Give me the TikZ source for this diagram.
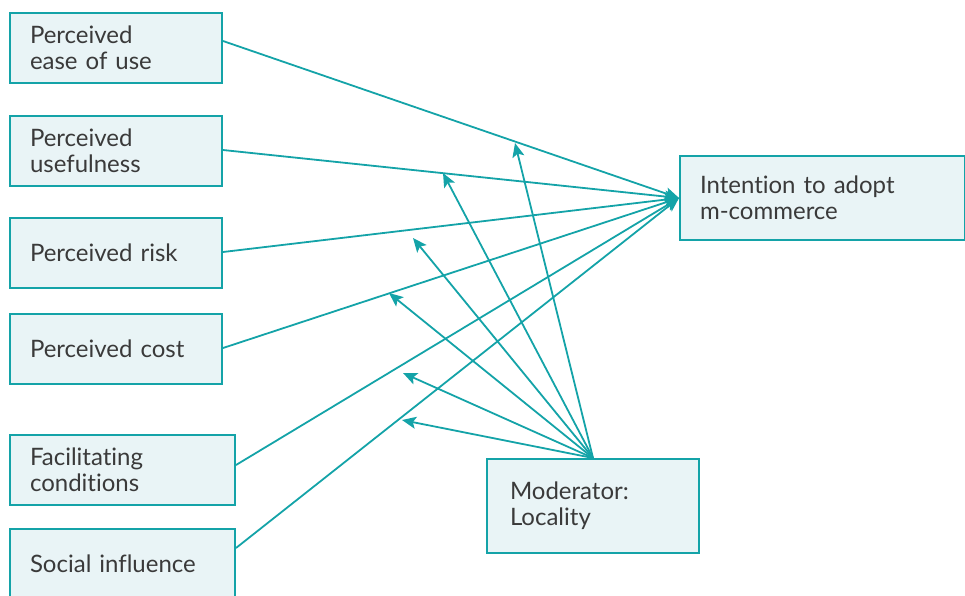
\documentclass[tikz,border=0pt]{standalone}
\usepackage{fontspec}
\setmainfont{Lato}[Ligatures={NoCommon}]
\usepackage{tikz}
\usetikzlibrary{arrows.meta, positioning}
\definecolor{teal line}{HTML}{14A3A8}
\definecolor{box fill}{HTML}{E9F4F6}
\definecolor{label}{HTML}{3A3A3A}
\tikzstyle{factor} = [
    draw=teal line,
    line width=2pt,
    rectangle,
    fill=box fill,
    text=label,
    font=\fontsize{24}{26}\selectfont,
    align=left,
    minimum width=212pt,
    minimum height=70pt,
    text width=172pt,
    inner xsep=20pt
]
\tikzstyle{wide factor} = [factor, minimum width=225pt, text width=185pt]
\tikzstyle{path} = [-{Stealth[length=14pt, width=12pt, inset=3pt]}, line width=1.8pt, draw=teal line]

\begin{document}
\begin{tikzpicture}[x=1pt, y=-1pt]
    \useasboundingbox (0, 0) rectangle (965, 595);
    \clip (0, 0) rectangle (965, 595);

    % Nodes.
    \node (ease) [factor] at (116, 48) {Perceived\\ease of use};
    \node (useful) [factor] at (116, 151) {Perceived\\usefulness};
    \node (risk) [factor] at (116, 253) {Perceived risk};
    \node (cost) [factor] at (116, 349) {Perceived cost};
    \node (facil) [wide factor] at (122.5, 470) {Facilitating\\conditions};
    \node (social) [wide factor] at (122.5, 564) {Social influence};

    \node (intent) [factor, minimum width=285pt, minimum height=84pt, text width=245pt] at (822.5, 198) {Intention to adopt\\m-commerce};
    \node (moder) [factor, minimum height=94pt, inner xsep=23pt, text width=166pt] at (593, 506) {Moderator:\\Locality};

    \node (tip ease) [coordinate] at (515, 143) {};
    \node (tip useful) [coordinate] at (443, 173) {};
    \node (tip risk) [coordinate] at (413, 238) {};
    \node (tip cost) [coordinate] at (389, 293) {};
    \node (tip facil) [coordinate] at (403, 373) {};
    \node (tip social) [coordinate] at (402, 420) {};

    % Paths.
    \draw [path] ([yshift=7pt]ease.east) -- (intent.west);
    \draw [path] ([yshift=1pt]useful.east) -- (intent.west);
    \draw [path] ([yshift=1pt]risk.east) -- (intent.west);
    \draw [path] ([yshift=1pt]cost.east) -- (intent.west);
    \draw [path] ([yshift=5pt]facil.east) -- (intent.west);
    \draw [path] ([yshift=16pt]social.east) -- (intent.west);

    \draw [path] (moder.north) -- (tip ease);
    \draw [path] (moder.north) -- (tip useful);
    \draw [path] (moder.north) -- (tip risk);
    \draw [path] (moder.north) -- (tip cost);
    \draw [path] (moder.north) -- (tip facil);
    \draw [path] (moder.north) -- (tip social);
\end{tikzpicture}
\end{document}
